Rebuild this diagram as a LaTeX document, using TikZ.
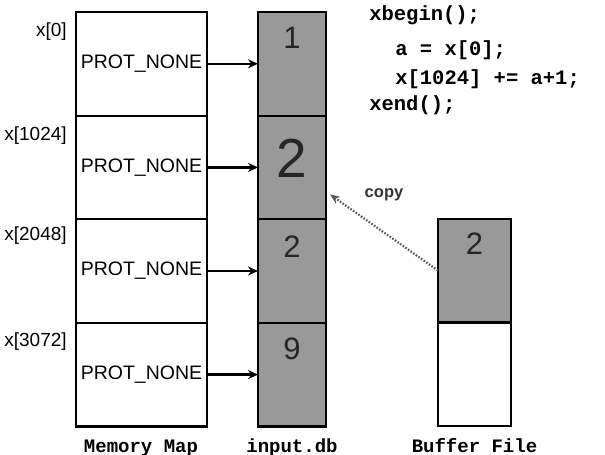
\documentclass[tikz,border=0pt]{standalone}
\usepackage{fontspec}
\setmainfont{Liberation Sans}
\setmonofont{Liberation Mono}
\usepackage{tikz}
\usetikzlibrary{arrows.meta, positioning}

\begin{document}
\begin{tikzpicture}[x=1pt, y=-1pt, >={Stealth[length=10pt,width=9pt]}, semithick, node distance=0pt,
	memcell/.style={draw, line width=2.2pt, outer sep=0pt, minimum width=131pt, minimum height=103.6pt, inner sep=0pt, font=\fontsize{19.5}{21}\selectfont},
	dbcell/.style={draw, line width=2.2pt, outer sep=0pt, fill=black!40, minimum width=68pt, minimum height=103.6pt, inner sep=0pt},
	bufcell/.style={draw, line width=2.2pt, outer sep=0pt, minimum width=73pt, minimum height=103.6pt, inner sep=0pt},
	digit/.style={font=\fontsize{31}{33}\selectfont, text=black!85},
	addr/.style={anchor=east, inner sep=0pt, font=\fontsize{19}{21}\selectfont},
	code/.style={anchor=base west, inner sep=0pt, font=\ttfamily\bfseries\fontsize{20.5}{22}\selectfont},
	caption/.style={anchor=base, inner sep=0pt, font=\ttfamily\bfseries\fontsize{19}{21}\selectfont},
	map/.style={->, line width=2.4pt, shorten <=1pt}]
	\useasboundingbox (0,0) rectangle (605,455);
	
	% Memory map
	\node[memcell] (m0) at (141.5,63.8) {PROT\_NONE};
	\node[memcell, below=of m0] (m1) {PROT\_NONE};
	\node[memcell, below=of m1] (m2) {PROT\_NONE};
	\node[memcell, below=of m2] (m3) {PROT\_NONE};
	
	% Addresses
	\node[addr] (a0) at ([xshift=-9pt, yshift=-20pt]m0.north west) {x[0]};
	\node[addr] (a1) at ([xshift=-9pt, yshift=-20pt]m1.north west) {x[1024]};
	\node[addr] (a2) at ([xshift=-9pt, yshift=-16pt]m2.north west) {x[2048]};
	\node[addr] (a3) at ([xshift=-9pt, yshift=-19pt]m3.north west) {x[3072]};
	
	% input.db
	\node[dbcell] (d0) at (292,63.8) {};
	\node[dbcell, below=of d0] (d1) {};
	\node[dbcell, below=of d1] (d2) {};
	\node[dbcell, below=of d2] (d3) {};
	\node[digit] (v0) at ([yshift=-26pt]d0.north) {1};
	\node[digit, font=\fontsize{55}{57}\selectfont] (v1) at ([yshift=-43pt]d1.north) {2};
	\node[digit] (v2) at ([yshift=-27pt]d2.north) {2};
	\node[digit] (v3) at ([yshift=-26pt]d3.north) {9};
	
	% Buffer file
	\node[bufcell, fill=black!40] (b0) at (474.5,270.6) {};
	\node[bufcell, below=of b0] (b1) {};
	\node[digit] (w0) at ([yshift=-25pt]b0.north) {2};
	
	% Code
	\node[code] (c0) at (369,20) {xbegin();};
	\node[code] (c1) at (395,55) {a = x[0];};
	\node[code] (c2) at (395,84) {x[1024] += a+1;};
	\node[code] (c3) at (369,110) {xend();};
	
	% Captions
	\node[caption] (t0) at (141,452) {Memory Map};
	\node[caption] (t1) at (292,452) {input.db};
	\node[caption] (t2) at (474.5,452) {Buffer File};
	
	% Edges
	\draw[map] (m0.east) -- (d0.west |- m0.east);
	\draw[map] (m1.east) -- (d1.west |- m1.east);
	\draw[map] (m2.east) -- (d2.west |- m2.east);
	\draw[map] (m3.east) -- (d3.west |- m3.east);
	\draw[->, black!65, line width=2.2pt, dash pattern=on 1.6pt off 1.6pt, >={Stealth[length=10pt,width=8pt]}] (b0.west) -- node[pos=0.5, yshift=38pt, black!80, font=\bfseries\fontsize{16.5}{18}\selectfont] (cp) {copy} ([xshift=4pt, yshift=-27pt]d1.east);
	
\end{tikzpicture}
\end{document}
